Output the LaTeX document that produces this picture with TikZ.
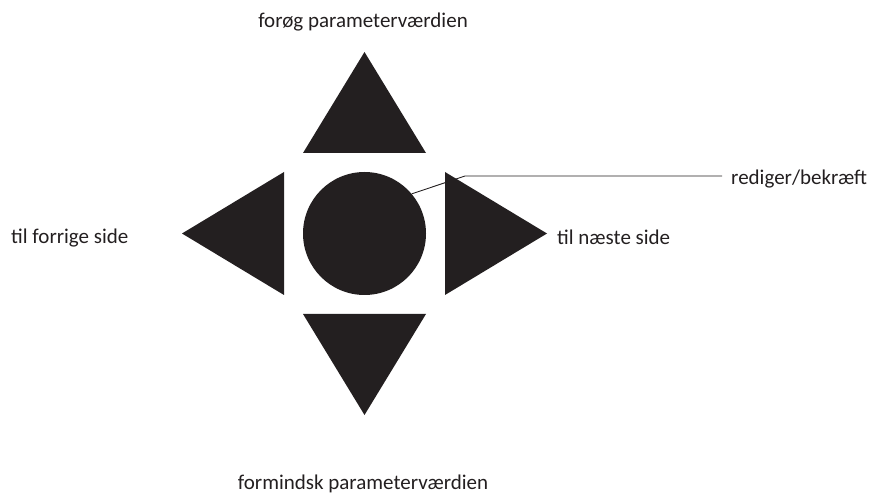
\documentclass[tikz,border=0pt]{standalone}
\usepackage{fontspec}
\setmainfont{Carlito}
\usetikzlibrary{positioning}
\definecolor{PadBlack}{RGB}{35,31,32}
\tikzset{
  padkey/.style={fill=PadBlack,draw=none},
  padlabel/.style={font=\fontsize{21}{25}\selectfont,text=PadBlack,inner sep=0pt},
  leader/.style={draw=PadBlack,line width=0.9pt}
}
\begin{document}
\begin{tikzpicture}[x=1pt,y=-1pt]
\useasboundingbox (0,0) rectangle (871,497);
% centre key
\node[padkey,circle,minimum size=123pt,inner sep=0pt] (ok) at (364.5,233.5) {};
% arrow keys
\fill[PadBlack] (303,153) -- (364.5,52) -- (426,153) -- cycle;
\fill[PadBlack] (303,314) -- (364.5,415) -- (426,314) -- cycle;
\fill[PadBlack] (284,172) -- (182,233.5) -- (284,295) -- cycle;
\fill[PadBlack] (445,172) -- (547,233.5) -- (445,295) -- cycle;
% labels
\node[padlabel] (up) at (363,22) {forøg parameterværdien};
\node[padlabel] (down) at (363,484) {formindsk parameterværdien};
\node[padlabel,anchor=west] (prev) at (11,238) {til forrige side};
\node[padlabel,anchor=west] (next) at (557,237) {til næste side};
\node[padlabel,anchor=west] (edit) at (731,179) {rediger/bekræft};
\coordinate (bend) at (465,176);
\draw[leader] (ok.40) -- (bend) -- ([xshift=-9pt]edit.west |- bend);
\end{tikzpicture}
\end{document}
